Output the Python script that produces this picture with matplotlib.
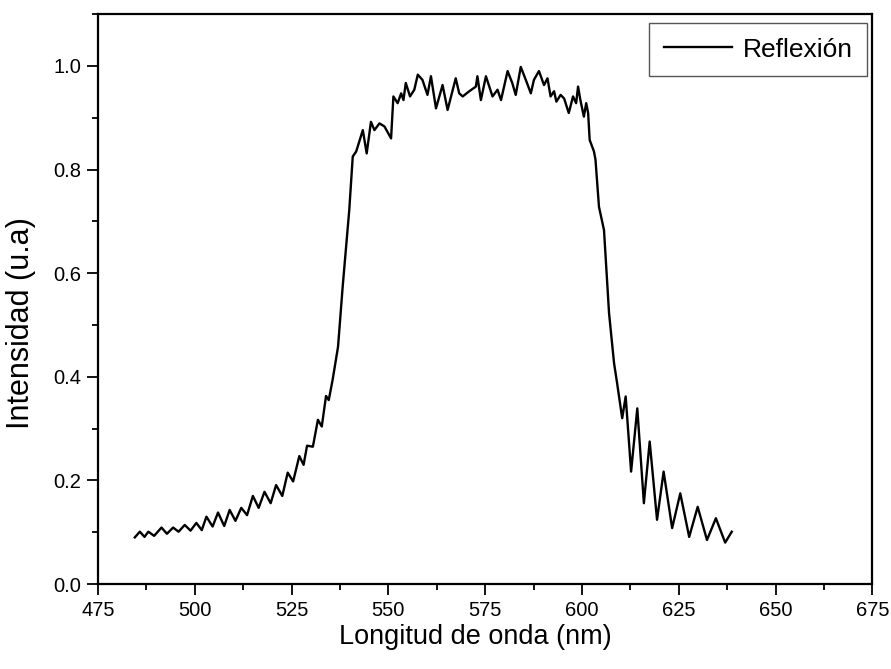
import numpy as np
import matplotlib.pyplot as plt
from matplotlib.ticker import MultipleLocator

# --- data (wavelength in nm, normalised intensity) ---
wl_low = [484.5, 485.8, 487.0, 488.0, 489.5, 491.4, 492.8, 494.4, 495.8, 497.4,
          498.9, 500.4, 501.8, 503.0, 504.6, 506.0, 507.6, 509.0, 510.5, 512.0,
          513.5, 515.0, 516.5, 518.0, 519.6, 521.0, 522.6, 524.0, 525.4, 527.0,
          528.1, 529.0, 530.5, 531.8, 532.8, 533.9, 534.6]
int_low = [0.090, 0.101, 0.091, 0.101, 0.093, 0.109, 0.097, 0.109, 0.101, 0.114,
           0.103, 0.118, 0.104, 0.130, 0.111, 0.138, 0.112, 0.143, 0.122, 0.147,
           0.133, 0.170, 0.147, 0.178, 0.156, 0.191, 0.170, 0.215, 0.198, 0.247,
           0.230, 0.267, 0.265, 0.317, 0.304, 0.363, 0.355]

wl_rise = [535.6, 537.0, 538.2, 539.9, 540.8]
int_rise = [0.394, 0.458, 0.574, 0.722, 0.825]

wl_top = [541.7, 543.4, 544.4, 545.5, 546.4, 547.7, 549.0, 550.7, 551.3, 552.4,
          553.3, 553.9, 554.5, 555.6, 556.7, 557.6, 558.8, 560.1, 561.0, 562.3,
          564.0, 565.3, 567.4, 568.3, 569.2, 570.9, 572.6, 573.0, 573.9, 575.2,
          576.9, 578.2, 579.1, 580.8, 582.0, 582.9, 584.2, 585.5, 586.8, 587.6,
          588.9, 590.2, 591.1, 591.9, 592.8, 593.4, 594.5, 595.4, 596.6, 597.7,
          598.5, 599.0, 599.6, 600.5, 601.1, 601.6]
int_top = [0.835, 0.876, 0.831, 0.892, 0.876, 0.889, 0.883, 0.860, 0.941, 0.928,
           0.947, 0.934, 0.967, 0.941, 0.954, 0.983, 0.973, 0.944, 0.980, 0.918,
           0.963, 0.915, 0.976, 0.947, 0.941, 0.951, 0.960, 0.980, 0.934, 0.980,
           0.941, 0.954, 0.934, 0.990, 0.967, 0.944, 0.998, 0.973, 0.947, 0.973,
           0.990, 0.963, 0.976, 0.941, 0.951, 0.931, 0.944, 0.937, 0.909, 0.941,
           0.928, 0.960, 0.934, 0.902, 0.928, 0.909]

wl_fall = [602.0, 603.1, 603.5, 604.4, 605.7, 607.0, 608.3, 609.1]
int_fall = [0.857, 0.835, 0.819, 0.728, 0.683, 0.523, 0.426, 0.387]

wl_tail = [610.4, 611.3, 612.7, 614.3, 616.0, 617.5, 619.4, 621.1, 623.3, 625.4,
           627.7, 629.9, 632.3, 634.6, 637.0, 638.7]
int_tail = [0.320, 0.362, 0.217, 0.339, 0.156, 0.275, 0.124, 0.217, 0.108, 0.175,
            0.091, 0.149, 0.085, 0.127, 0.080, 0.101]

wavelength = np.array(wl_low + wl_rise + wl_top + wl_fall + wl_tail)
intensity = np.array(int_low + int_rise + int_top + int_fall + int_tail)

plt.rcParams['font.family'] = ['Liberation Sans', 'DejaVu Sans']

fig = plt.figure(figsize=(8.91, 6.69), dpi=100)
ax = fig.add_axes([0.110, 0.127, 0.869, 0.852])

ax.plot(wavelength, intensity, color='black', lw=1.7, label='Reflexión',
        solid_joinstyle='round')

ax.set_xlim(475, 675)
ax.set_ylim(0, 1.1)
ax.xaxis.set_major_locator(MultipleLocator(25))
ax.xaxis.set_minor_locator(MultipleLocator(12.5))
ax.yaxis.set_major_locator(MultipleLocator(0.2))
ax.yaxis.set_minor_locator(MultipleLocator(0.1))
ax.yaxis.set_major_formatter(lambda v, pos: f'{v:.1f}')

ax.tick_params(which='major', direction='out', length=8, width=1.3,
               labelsize=14.5, pad=4)
ax.tick_params(which='minor', direction='out', length=4, width=1.3)
for s in ax.spines.values():
    s.set_linewidth(1.6)

ax.set_xlabel('Longitud de onda (nm)', fontsize=19.5)
ax.set_ylabel('Intensidad (u.a)', fontsize=22)
ax.xaxis.set_label_coords(0.487, -0.07)
ax.yaxis.set_label_coords(-0.08, 0.458)

leg = ax.legend(loc='upper right', fontsize=19, fancybox=False, framealpha=1,
                edgecolor='#555555', handlelength=2.6, handletextpad=0.4,
                borderpad=0.55, borderaxespad=0,
                bbox_to_anchor=(0.9935, 0.984))
leg.get_frame().set_linewidth(1.0)

fig.savefig('out.png', dpi=100)
